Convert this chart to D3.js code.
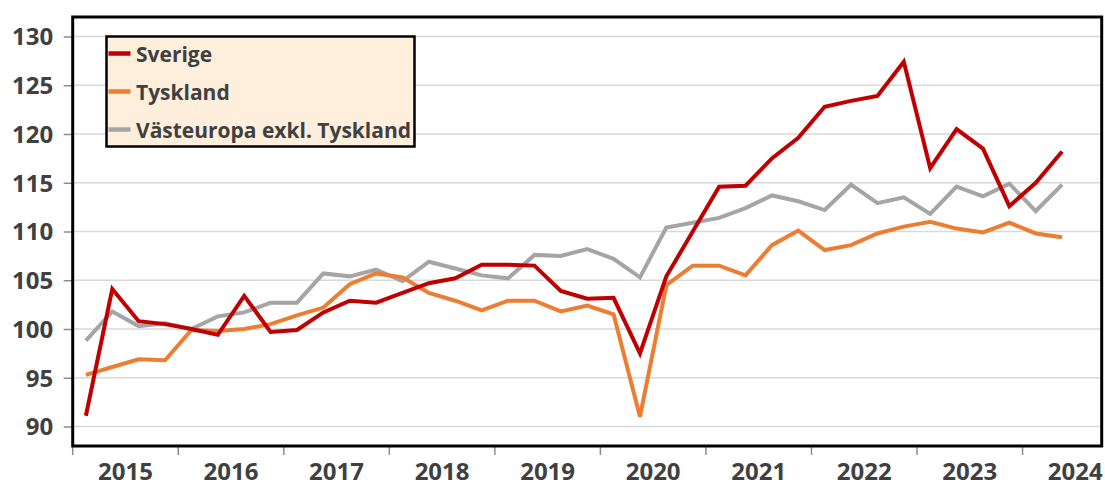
<!DOCTYPE html>
<html>
<head>
<meta charset="utf-8">
<script src="https://cdn.jsdelivr.net/npm/d3@7/dist/d3.min.js"></script>
<style>
  html, body { margin: 0; padding: 0; background: #ffffff; }
  svg { display: block; }
</style>
</head>
<body>
<svg id="chart" width="1105" height="487"></svg>
<script>
// Quarterly, 2015Q1 .. 2024Q2 (38 points), axis has 39 quarter slots
const years = ["2015","2016","2017","2018","2019","2020","2021","2022","2023","2024"];
const yTicks = [90, 95, 100, 105, 110, 115, 120, 125, 130];
const seriesNames = ["Sverige", "Tyskland", "Västeuropa exkl. Tyskland"];

const sverige = [91.1, 104.1, 100.8, 100.5, 100.0, 99.4, 103.4, 99.7, 99.9, 101.7,
  102.9, 102.7, 103.7, 104.7, 105.2, 106.6, 106.6, 106.5, 103.9, 103.1,
  103.2, 97.5, 105.4, 110.0, 114.6, 114.7, 117.5, 119.6, 122.8, 123.4,
  123.9, 127.4, 116.5, 120.5, 118.5, 112.6, 115.0, 118.2];
const tyskland = [95.3, 96.1, 96.9, 96.8, 99.9, 99.8, 100.0, 100.5, 101.4, 102.2,
  104.6, 105.7, 105.3, 103.7, 102.9, 101.9, 102.9, 102.9, 101.8, 102.4,
  101.5, 91.0, 104.5, 106.5, 106.5, 105.5, 108.6, 110.1, 108.1, 108.6,
  109.8, 110.5, 111.0, 110.3, 109.9, 110.9, 109.8, 109.4];
const vasteuropa = [98.8, 101.8, 100.3, 100.6, 100.0, 101.3, 101.7, 102.7, 102.7, 105.7,
  105.4, 106.1, 104.9, 106.9, 106.2, 105.5, 105.2, 107.6, 107.5, 108.2,
  107.2, 105.3, 110.4, 110.9, 111.4, 112.4, 113.7, 113.1, 112.2, 114.8,
  112.9, 113.5, 111.8, 114.6, 113.6, 114.9, 112.1, 114.8];

const nSlots = 39;
const colors = ["#C00000", "#ED7D31", "#A5A5A5"];
const textColor = "#404040";
const font = "'Open Sans', 'DejaVu Sans', sans-serif";

const svg = d3.select("#chart");
const pLeft = 72.7, pRight = 1101.7, pTop = 17, pBottom = 446;

const x = d3.scaleLinear().domain([0, nSlots]).range([pLeft, pRight]);
const y = d3.scaleLinear().domain([88, 132]).range([pBottom, pTop]);

// gridlines
svg.append("g").selectAll("line").data(yTicks).join("line")
  .attr("x1", pLeft).attr("x2", pRight)
  .attr("y1", d => y(d)).attr("y2", d => y(d))
  .attr("stroke", "#D9D9D9").attr("stroke-width", 1.5);

// y axis
const yAxis = d3.axisLeft(y).tickValues(yTicks).tickSize(9).tickPadding(10).tickFormat(d3.format("d"));
const gy = svg.append("g").attr("transform", `translate(${pLeft},0)`).call(yAxis);
gy.select(".domain").remove();
gy.selectAll(".tick line").attr("stroke", "#8C8C8C").attr("stroke-width", 1.5);
gy.selectAll(".tick text").attr("font-family", font).attr("font-weight", "bold")
  .attr("font-size", 24).attr("fill", textColor).attr("x", -19.5).attr("dy", "0.35em");

// x axis: ticks at year boundaries
const yearStarts = years.map((d, i) => i * 4);
const gx = svg.append("g").attr("transform", `translate(0,${pBottom})`);
gx.selectAll("line").data(yearStarts).join("line")
  .attr("x1", d => x(d)).attr("x2", d => x(d))
  .attr("y1", 0).attr("y2", 9)
  .attr("stroke", "#8C8C8C").attr("stroke-width", 1.5);
gx.selectAll("text").data(years).join("text")
  .attr("x", (d, i) => x(i * 4 + 2))
  .attr("y", 33.5)
  .attr("text-anchor", "middle")
  .attr("font-family", font).attr("font-weight", "bold").attr("font-size", 24)
  .attr("fill", textColor)
  .text(d => d);

// lines
const line = d3.line().x((d, i) => x(i + 0.5)).y(d => y(d));
const allSeries = [sverige, tyskland, vasteuropa];
const drawOrder = [2, 1, 0];
drawOrder.forEach(k => {
  svg.append("path").datum(allSeries[k])
    .attr("d", line)
    .attr("fill", "none")
    .attr("stroke", colors[k])
    .attr("stroke-width", 4)
    .attr("stroke-linejoin", "miter")
    .attr("stroke-linecap", "butt");
});

// plot frame
svg.append("rect")
  .attr("x", pLeft).attr("y", pTop)
  .attr("width", pRight - pLeft).attr("height", pBottom - pTop)
  .attr("fill", "none").attr("stroke", "#000").attr("stroke-width", 3);

// legend
const lg = svg.append("g");
lg.append("rect")
  .attr("x", 106.5).attr("y", 36.5).attr("width", 308).attr("height", 110)
  .attr("fill", "#FDEFDB").attr("stroke", "#000").attr("stroke-width", 2.5);
const rowY = [53.5, 91.5, 129.5];
seriesNames.forEach((name, k) => {
  lg.append("line")
    .attr("x1", 108.5).attr("x2", 130.5)
    .attr("y1", rowY[k]).attr("y2", rowY[k])
    .attr("stroke", colors[k]).attr("stroke-width", 4.5);
});
const texts = lg.selectAll("text.leg").data(seriesNames).join("text")
  .attr("class", "leg")
  .attr("x", 136).attr("y", (d, k) => rowY[k] + 8)
  .attr("font-family", font).attr("font-weight", "bold").attr("font-size", 22)
  .attr("fill", textColor)
  .text(d => d);
// compress legend text horizontally to match the narrow original face
const longest = texts.filter((d, k) => k === 2).node().getComputedTextLength();
const factor = 275 / longest;
texts.each(function() {
  const w = this.getComputedTextLength();
  d3.select(this).attr("textLength", w * factor).attr("lengthAdjust", "spacingAndGlyphs");
});
</script>
</body>
</html>
